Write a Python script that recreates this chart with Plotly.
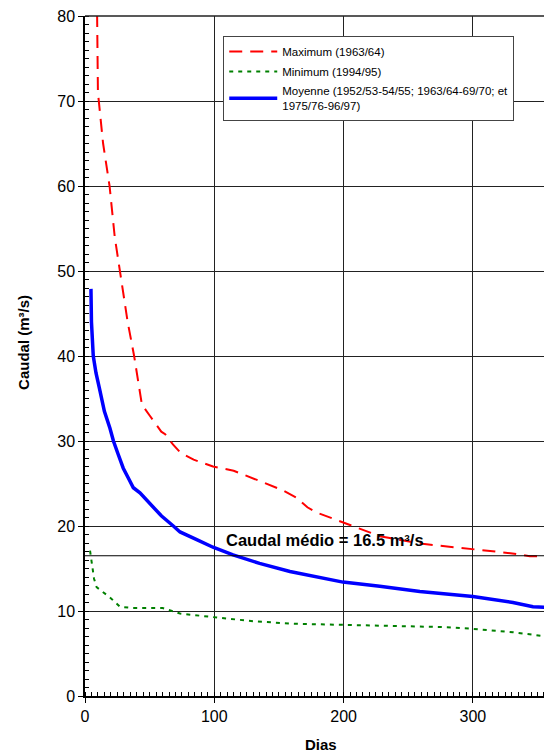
import plotly.graph_objects as go

# ---- data ----
max_days = [8, 9.3, 10, 14, 19, 23, 28, 33, 38, 44, 50, 55, 59, 62, 68, 74, 84, 99, 115, 135, 153, 164, 172, 179, 200, 228, 261, 300, 329, 344, 361]
max_flow = [100, 80, 71, 65, 60, 54, 49, 44, 40, 34.3, 33.0, 32.0, 31.1, 30.8, 29.6, 28.6, 27.8, 27.0, 26.5, 25.3, 24.2, 23.3, 22.2, 21.6, 20.4, 18.8, 17.9, 17.3, 16.8, 16.45, 16.4]

min_days = [3.9, 5, 7, 9, 14, 19.3, 27, 37, 60, 73.5, 104, 130, 161, 220, 280, 300, 331, 357, 361]
min_flow = [17.1, 16.0, 13.8, 12.8, 12.2, 11.6, 10.5, 10.35, 10.35, 9.7, 9.2, 8.8, 8.5, 8.3, 8.1, 7.9, 7.5, 7.0, 6.8]

mean_days = [4.6, 5.0, 6.4, 8.5, 11, 15, 19.3, 22, 25.5, 29.6, 34, 37.4, 42.5, 50.3, 59, 68.3, 73.5, 86.4, 99, 114.5, 135, 158.5, 181.7, 199.5, 228, 259, 300, 331, 346.5, 361]
mean_flow = [47.9, 44.0, 40.0, 38.0, 36.3, 33.5, 31.5, 30.0, 28.5, 26.8, 25.5, 24.5, 23.9, 22.6, 21.2, 20.0, 19.3, 18.4, 17.5, 16.6, 15.6, 14.65, 14.0, 13.4, 12.9, 12.3, 11.7, 11.0, 10.5, 10.4]

MEAN_FLOW = 16.5
x_ticks = [0, 100, 200, 300]
y_ticks = [0, 10, 20, 30, 40, 50, 60, 70, 80]

FONT = "Arial, Liberation Sans, sans-serif"

fig = go.Figure()
fig.add_trace(go.Scatter(x=max_days, y=max_flow, mode="lines", name="Maximum (1963/64)",
                         legendgroup="a",
                         line=dict(color="#ff0000", width=2, dash="13px,8px")))
fig.add_trace(go.Scatter(x=min_days, y=min_flow, mode="lines", name="Minimum (1994/95)",
                         legendgroup="b",
                         line=dict(color="#008000", width=2, dash="4px,5px")))
fig.add_trace(go.Scatter(x=mean_days, y=mean_flow, mode="lines",
                         name="Moyenne (1952/53-54/55; 1963/64-69/70; et<br>1975/76-96/97)",
                         legendgroup="c",
                         line=dict(color="#0000ff", width=3.5)))

fig.add_shape(type="line", xref="paper", x0=0, x1=1, yref="y", y0=MEAN_FLOW, y1=MEAN_FLOW,
              line=dict(color="black", width=1), layer="above")
# top frame line of the plot area
fig.add_shape(type="line", xref="paper", x0=0, x1=1, yref="paper", y0=1, y1=1,
              line=dict(color="#222", width=1.5), layer="above")

fig.add_annotation(x=186, y=MEAN_FLOW, xref="x", yref="y", yshift=16,
                   text="<b>Caudal médio = 16.5 m³/s</b>", showarrow=False,
                   font=dict(family=FONT, size=16.5, color="black"))
fig.add_annotation(x=0.505, y=0, xref="paper", yref="paper", yshift=-59,
                   text="<b>Dias</b>", showarrow=False,
                   font=dict(family=FONT, size=15, color="black"))
fig.add_annotation(x=0, y=0.52, xref="paper", yref="paper", xshift=-72,
                   text="<b>Caudal (m³/s)</b>", textangle=-90, showarrow=False,
                   font=dict(family=FONT, size=15, color="black"))

# page body has an 8px margin: figure is sized/offset to compensate
fig.update_layout(
    width=544, height=748,
    margin=dict(l=77, r=0, t=5, b=60),
    paper_bgcolor="white", plot_bgcolor="white",
    font=dict(family=FONT, size=16, color="black"),
    showlegend=True,
    legend=dict(x=0.296, y=0.9707, xanchor="left", yanchor="top",
                bgcolor="white", bordercolor="#444", borderwidth=1,
                font=dict(family=FONT, size=11.5, color="black"),
                itemwidth=48,
                traceorder="grouped", tracegroupgap=1),
)
fig.update_xaxes(range=[0, 361.2], tickvals=x_ticks, showgrid=True, gridcolor="#222", gridwidth=1,
                 zeroline=False, showline=True, linecolor="black", linewidth=1.5,
                 ticks="outside", ticklen=5, tickcolor="black",
                 minor=dict(dtick=5, ticks="inside", ticklen=4, tickcolor="black", showgrid=False),
                 tickfont=dict(family=FONT, size=16, color="black"),
                 ticklabeloverflow="allow")
fig.update_yaxes(range=[0, 80], tickvals=y_ticks, showgrid=True, gridcolor="#222", gridwidth=1,
                 zeroline=False, showline=True, linecolor="black", linewidth=1.5,
                 ticks="outside", ticklen=5, tickcolor="black",
                 minor=dict(dtick=1, ticks="inside", ticklen=4, tickcolor="black", showgrid=False),
                 tickfont=dict(family=FONT, size=16, color="black"),
                 ticklabeloverflow="allow")

fig.write_html("out.html")
